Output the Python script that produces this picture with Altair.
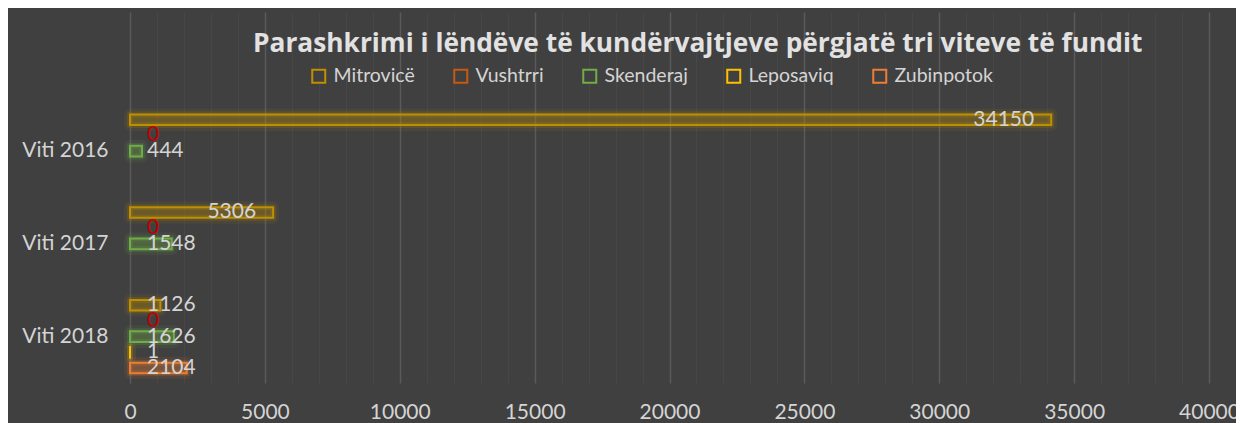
import altair as alt
import pandas as pd

# ---- data ----
cities = ["Mitrovicë", "Vushtrri", "Skenderaj", "Leposaviq", "Zubinpotok"]
colors = ["#bf8f00", "#c55a11", "#70ad47", "#ffc000", "#ed7d31"]
years = ["Viti 2016", "Viti 2017", "Viti 2018"]
v2016 = [34150, 0, 444, None, None]
v2017 = [5306, 0, 1548, None, None]
v2018 = [1126, 0, 1626, 1, 2104]
x_ticks = list(range(0, 40001, 1000))

rows = []
for yr, vals in zip(years, [v2016, v2017, v2018]):
    for c, v in zip(cities, vals):
        if v is not None:
            rows.append({"year": yr, "city": c, "value": v, "base": 0})
df = pd.DataFrame(rows)

FONT = "Lato"
TXT = "#d4d4d4"
BG = "#404040"
y_domain = [" "] + years

y_enc = alt.Y("year:N", scale=alt.Scale(domain=y_domain, paddingInner=0, paddingOuter=0),
              axis=alt.Axis(title=None, labelFont=FONT, labelFontSize=21, labelColor=TXT,
                            labelPadding=22, ticks=False, domain=False, grid=False))
yoff = alt.YOffset("city:N", scale=alt.Scale(domain=cities, paddingInner=0.33, paddingOuter=0.62))
x_scale = alt.Scale(domain=[0, 40000], nice=False)
x_axis = alt.Axis(title=None, values=x_ticks, format="d",
                  labelExpr="datum.value % 5000 === 0 ? datum.label : ''",
                  labelOverlap=False, labelFlush=False,
                  labelFont=FONT, labelFontSize=21, labelColor=TXT, labelPadding=18,
                  ticks=False, domain=False,
                  gridColor={"condition": {"test": "datum.value % 5000 === 0", "value": "#5a5a5a"}, "value": "#474747"},
                  gridWidth={"condition": {"test": "datum.value % 5000 === 0", "value": 1.5}, "value": 1})
x_enc = alt.X("value:Q", scale=x_scale, axis=x_axis)
x_base = alt.X("base:Q", scale=x_scale, axis=x_axis)

stroke_enc = alt.Stroke("city:N", scale=alt.Scale(domain=cities, range=colors),
                        legend=alt.Legend(title=None, orient="none", direction="horizontal",
                                          legendX=179, legendY=54, symbolType="square",
                                          symbolSize=169, symbolStrokeWidth=2,
                                          symbolFillColor=BG,
                                          labelFont=FONT, labelFontSize=19.5, labelColor=TXT,
                                          labelOffset=5, columnPadding=35))
fill_enc = alt.Fill("city_fill:N", scale=alt.Scale(domain=cities, range=colors), legend=None)

bars_df = alt.Chart(df).transform_filter("datum.value > 0")

glow2 = bars_df.mark_bar(fill=BG, fillOpacity=0, strokeWidth=12, strokeOpacity=0.08, strokeJoin="round").encode(
    x=x_enc, y=y_enc, yOffset=yoff, stroke=stroke_enc)
glow1 = bars_df.mark_bar(fill=BG, fillOpacity=0, strokeWidth=6, strokeOpacity=0.18, strokeJoin="round").encode(
    x=x_enc, y=y_enc, yOffset=yoff, stroke=stroke_enc)
bars = bars_df.transform_calculate(city_fill="datum.city").mark_bar(
    fillOpacity=0.28, strokeWidth=2).encode(
    x=x_enc, y=y_enc, yOffset=yoff, stroke=stroke_enc, fill=fill_enc)

big_lbl = alt.Chart(df).transform_filter("datum.value > 3000").mark_text(
    align="right", baseline="middle", dx=-17, font=FONT, fontSize=21, color=TXT).encode(
    x=x_enc, y=y_enc, yOffset=yoff, text="value:Q")
small_lbl = alt.Chart(df).transform_filter("datum.value <= 3000").mark_text(
    align="left", baseline="middle", dx=17, font=FONT, fontSize=21).encode(
    x=x_base, y=y_enc, yOffset=yoff, text="value:Q",
    color=alt.condition("datum.value === 0", alt.value("#c00000"), alt.value(TXT)))

chart = alt.layer(glow2, glow1, bars, big_lbl, small_lbl).properties(
    width=1079, height=371,
    title=alt.TitleParams("Parashkrimi i lëndëve të kundërvajtjeve përgjatë tri viteve të fundit",
                          anchor="start", frame="group", dx=123, dy=58, offset=0,
                          baseline="middle", font="Open Sans", fontSize=26.3, fontWeight="bold",
                          color="#e2e2e2"),
    autosize=alt.AutoSizeParams(type="none"),
    padding={"left": 122, "top": 4, "right": 27, "bottom": 45},
    background=BG,
).configure_view(stroke=None).resolve_scale(fill="independent")

chart.save("out.html", embed_options={"renderer": "svg", "actions": False})
